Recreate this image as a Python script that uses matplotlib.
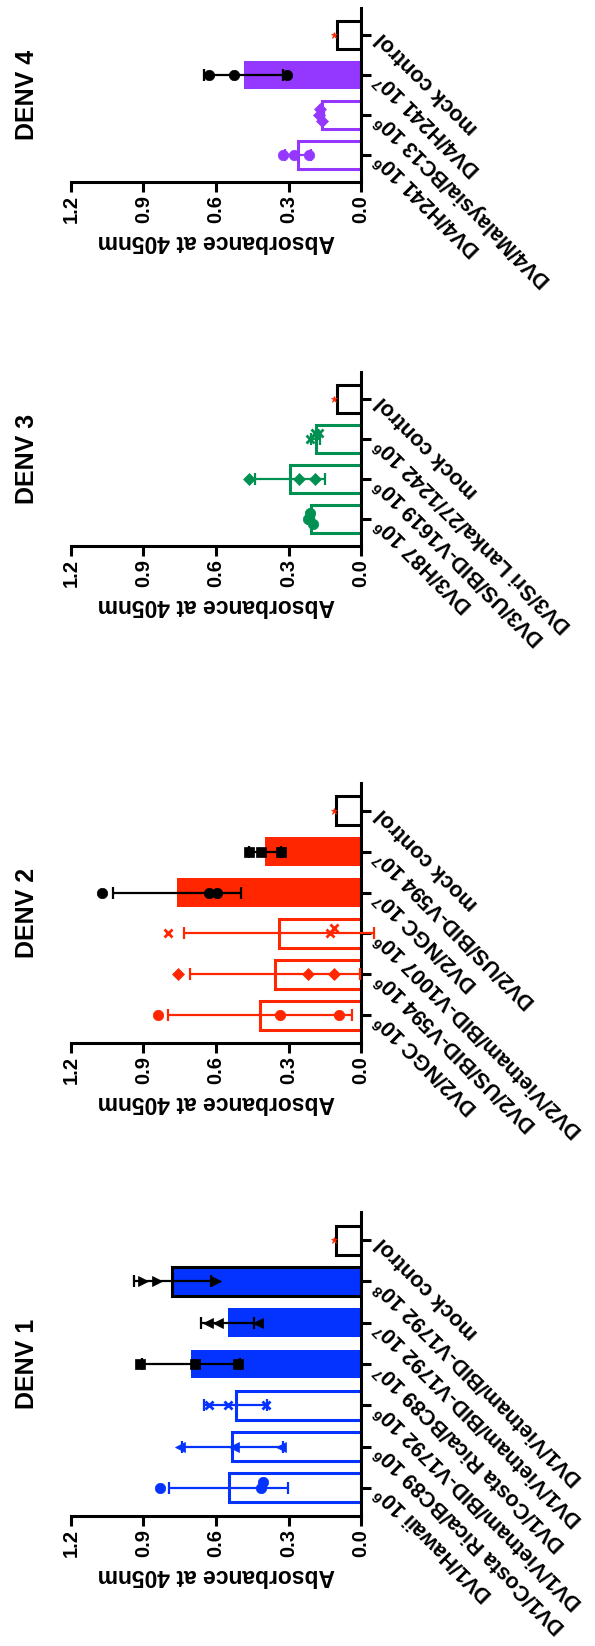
import numpy as np
import matplotlib
matplotlib.use("Agg")
import matplotlib.pyplot as plt

plt.rcParams["font.family"] = ["Liberation Sans", "DejaVu Sans"]
plt.rcParams["font.weight"] = "bold"
plt.rcParams["mathtext.fontset"] = "custom"
plt.rcParams["mathtext.rm"] = "Liberation Sans:bold"
plt.rcParams["mathtext.default"] = "rm"

# values listed bottom -> top of each (rotated) panel
value_ticks = [0.0, 0.3, 0.6, 0.9, 1.2]
value_ticklabels = ["0.0", "0.3", "0.6", "0.9", "1.2"]
value_label = "Absorbance at 405nm"

denv1_labels = ["DV1/Hawaii 10$^6$", "DV1/Costa Rica/BC89 10$^6$", "DV1/Vietnam/BID-V1792 10$^6$",
                "DV1/Costa Rica/BC89 10$^7$", "DV1/Vietnam/BID-V1792 10$^7$",
                "DV1/Vietnam/BID-V1792 10$^8$", "mock control"]
denv1_means = [0.548, 0.532, 0.518, 0.703, 0.551, 0.78, 0.104]
denv1_sd = [0.245, 0.208, 0.13, 0.202, 0.109, 0.158, 0.0]
denv1_points = [[0.831, 0.415, 0.407], [0.748, 0.527, 0.332], [0.631, 0.552, 0.394],
                [0.914, 0.685, 0.511], [0.59, 0.635, 0.428], [0.843, 0.9, 0.602], [0.11]]

denv2_labels = ["DV2/NGC 10$^6$", "DV2/US/BID-V594 10$^6$", "DV2/Vietnam/BID-V1007 10$^6$",
                "DV2/NGC 10$^7$", "DV2/US/BID-V594 10$^7$", "mock control"]
denv2_means = [0.418, 0.356, 0.34, 0.762, 0.398, 0.104]
denv2_sd = [0.382, 0.35, 0.392, 0.266, 0.067, 0.0]
denv2_points = [[0.839, 0.336, 0.091], [0.756, 0.22, 0.112], [0.797, 0.13, 0.11],
                [1.071, 0.631, 0.594], [0.465, 0.415, 0.332], [0.11]]

denv3_labels = ["DV3/H87 10$^6$", "DV3/US/BID-V1619 10$^6$", "DV3/Sri Lanka/27/1242 10$^6$",
                "mock control"]
denv3_means = [0.208, 0.295, 0.188, 0.1]
denv3_sd = [0.012, 0.145, 0.02, 0.0]
denv3_points = [[0.22, 0.21, 0.2], [0.465, 0.255, 0.19], [0.21, 0.19, 0.175], [0.11]]

denv4_labels = ["DV4/H241 10$^6$", "DV4/Malaysia/BC13 10$^6$", "DV4/H241 10$^7$", "mock control"]
denv4_means = [0.262, 0.162, 0.486, 0.098]
denv4_sd = [0.054, 0.01, 0.165, 0.0]
denv4_points = [[0.324, 0.278, 0.216], [0.175, 0.17, 0.16], [0.631, 0.527, 0.307], [0.11]]

BLUE, RED, GREEN, PURPLE = "#0433FF", "#FF2600", "#009051", "#9437FF"


def spread(vals, close=0.035, step=0.14):
    offs = np.zeros(len(vals))
    for i, v in enumerate(vals):
        n = sum(abs(v - vals[j]) < close for j in range(i))
        if n:
            offs[i] = step * ((n + 1) // 2) * (1 if n % 2 else -1)
    return offs


def draw_panel(fig, rect, title, labels, means, sds, points, color, filled, black_edge, markers):
    ax = fig.add_axes(rect)
    y = np.arange(len(labels))
    n = len(labels)
    for i in range(n):
        is_mock = i == n - 1
        if is_mock:
            face, edge, lw = "white", "black", 2.2
        elif filled[i]:
            face = color
            edge = "black" if black_edge[i] else color
            lw = 2.2 if black_edge[i] else 0
        else:
            face, edge, lw = "white", color, 2.2
        ax.barh(y[i], means[i], height=0.7, color=face, edgecolor=edge, linewidth=lw, zorder=2)
        pc = "black" if (filled[i] and not is_mock) else color
        if is_mock:
            pc = RED
        if sds[i] > 0:
            ax.errorbar(means[i], y[i], xerr=sds[i], fmt="none", ecolor=pc, elinewidth=1.6,
                        capsize=4.5, capthick=1.6, zorder=3, clip_on=False)
        pts = points[i]
        offs = spread(pts)
        m = markers[i]
        ms = 5 if is_mock else (6 if m in ("D", "x") else 7.5)
        ax.plot(pts, y[i] + offs, linestyle="none", marker=m, color=pc, markersize=ms,
                markeredgewidth=2 if m == "x" else 0.5, zorder=4, clip_on=False)

    ax.set_xlim(1.2, 0)
    ax.set_ylim(-0.68, n - 1 + 0.68)
    ax.spines[["left", "top"]].set_visible(False)
    ax.spines[["right", "bottom"]].set_linewidth(2.2)
    ax.yaxis.tick_right()
    ax.set_xticks(value_ticks)
    ax.set_xticklabels(value_ticklabels, rotation=90, fontsize=14.5, fontweight="bold")
    ax.set_yticks(y)
    ax.set_yticklabels(labels, rotation=135, rotation_mode="anchor", ha="right", va="center",
                       fontsize=15.5, fontweight="bold")
    ax.tick_params(axis="both", width=2.2, length=7.5)
    ax.tick_params(axis="y", pad=6)
    ax.tick_params(axis="x", pad=2)
    ax.set_xlabel(value_label, rotation=180, fontsize=16.5, fontweight="bold", labelpad=5)

    x0, y0, w, h = rect
    fig.text(27 / 595, y0 + h / 2, title, rotation=90, ha="center", va="center",
             fontsize=18, fontweight="bold")
    return ax


fig = plt.figure(figsize=(5.95, 16.46), dpi=100)
left, width = 71 / 595, 290 / 595

draw_panel(fig, [left, 1 - 1516 / 1646, width, 304 / 1646], "DENV 1", denv1_labels, denv1_means,
           denv1_sd, denv1_points, BLUE,
           filled=[False, False, False, True, True, True, False],
           black_edge=[False, False, False, False, False, True, False],
           markers=["o", "<", "x", "s", "<", ">", "*"])

draw_panel(fig, [left, 1 - 1043 / 1646, width, 260 / 1646], "DENV 2", denv2_labels, denv2_means,
           denv2_sd, denv2_points, RED,
           filled=[False, False, False, True, True, False],
           black_edge=[False] * 6,
           markers=["o", "D", "x", "o", "s", "*"])

draw_panel(fig, [left, 1 - 546 / 1646, width, 174 / 1646], "DENV 3", denv3_labels, denv3_means,
           denv3_sd, denv3_points, GREEN,
           filled=[False, False, False, False],
           black_edge=[False] * 4,
           markers=["o", "D", "x", "*"])

draw_panel(fig, [left, 1 - 182 / 1646, width, 174 / 1646], "DENV 4", denv4_labels, denv4_means,
           denv4_sd, denv4_points, PURPLE,
           filled=[False, False, True, False],
           black_edge=[False] * 4,
           markers=["o", "D", "o", "*"])

fig.savefig("out.png", dpi=100)
